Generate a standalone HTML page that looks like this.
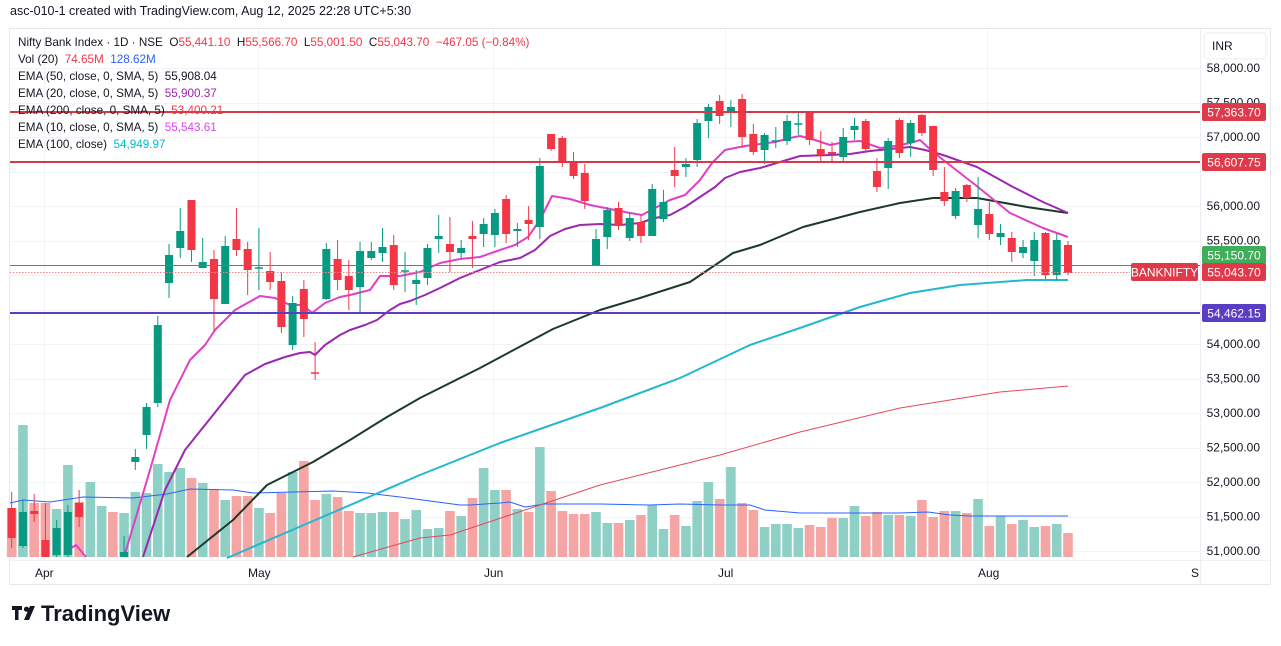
<!DOCTYPE html>
<html><head><meta charset="utf-8"><style>
body{margin:0;width:1281px;height:646px;background:#fff;overflow:hidden;font-family:"Liberation Sans",sans-serif;position:relative}
.t{position:absolute;font-size:12px;color:#131722;white-space:nowrap}
.lg{position:absolute;left:18px;font-size:11.7px;color:#131722;white-space:nowrap}
.r{color:#f23645}.b{color:#2962ff}
</style></head><body>
<div class="t" style="left:10px;top:4px;font-size:12.5px">asc-010-1 created with TradingView.com, Aug 12, 2025 22:28 UTC+5:30</div>
<svg id="s" width="1281" height="646" style="position:absolute;left:0;top:0">
<rect x="9.5" y="28.5" width="1261" height="556" fill="none" stroke="#e6e8ee"/>
<line x1="1200.5" y1="28" x2="1200.5" y2="584" stroke="#eceef3"/>
<line x1="10" y1="560.5" x2="1270" y2="560.5" stroke="#f0f1f4"/>
<g id="grid" stroke="#f2f3f6" stroke-width="1"></g>
<g id="vol"></g>
<g id="lines" fill="none"></g>
<g id="cnd"></g>
<g id="hl"></g>
<rect x="1204" y="33" width="62" height="26" rx="3" fill="#fff" stroke="#eceef3"/>
<text x="1212" y="50" font-size="12" fill="#131722" font-family="Liberation Sans">INR</text>
<g id="ax" font-size="12" fill="#131722" font-family="Liberation Sans" text-anchor="end"></g>
<g font-size="12" fill="#131722" font-family="Liberation Sans">
<text x="35" y="577">Apr</text><text x="248" y="577">May</text><text x="484" y="577">Jun</text><text x="718" y="577">Jul</text><text x="978" y="577">Aug</text><text x="1191" y="577">S</text>
</g>
<g id="lab" font-size="12" font-family="Liberation Sans" fill="#fff"></g>
<g transform="translate(12,606)">
<path d="M0 0h10v4h-3.5v10h-3.5v-10h-3z" fill="#131722"/>
<circle cx="14.5" cy="3.2" r="2.6" fill="#131722"/>
<path d="M18 0h5l-6 14h-5z" fill="#131722"/>
<text x="29" y="15" font-size="22" font-weight="bold" fill="#131722" font-family="Liberation Sans">TradingView</text>
</g>
</svg>
<div class="lg" style="top:36px">Nifty Bank Index · 1D · NSE &nbsp;O<span class="r">55,441.10</span> &nbsp;H<span class="r">55,566.70</span> &nbsp;L<span class="r">55,001.50</span> &nbsp;C<span class="r">55,043.70</span> &nbsp;<span class="r">−467.05 (−0.84%)</span></div>
<div class="lg" style="top:53px">Vol (20) &nbsp;<span class="r">74.65M</span> &nbsp;<span class="b">128.62M</span></div>
<div class="lg" style="top:70px">EMA (50, close, 0, SMA, 5) &nbsp;<span style="color:#131722">55,908.04</span></div>
<div class="lg" style="top:87px">EMA (20, close, 0, SMA, 5) &nbsp;<span style="color:#9c27b0">55,900.37</span></div>
<div class="lg" style="top:104px">EMA (200, close, 0, SMA, 5) &nbsp;<span class="r">53,400.21</span></div>
<div class="lg" style="top:121px">EMA (10, close, 0, SMA, 5) &nbsp;<span style="color:#e040fb">55,543.61</span></div>
<div class="lg" style="top:138px">EMA (100, close) &nbsp;<span style="color:#00bcd4">54,949.97</span></div>
<script>
const NS="http://www.w3.org/2000/svg";
function el(p,t,a){const e=document.createElementNS(NS,t);for(const k in a)e.setAttribute(k,a[k]);document.getElementById(p).appendChild(e);return e;}
const Y=p=>68+(58000-p)*0.069;
for(let p=51000;p<=58000;p+=500){const y=Math.round(Y(p))+.5;el('grid','line',{x1:10,x2:1200,y1:y,y2:y});}
[44,258,493,725,987].forEach(x=>el('grid','line',{x1:x+.5,x2:x+.5,y1:29,y2:560}));
const skip={56500:1,55000:1,54500:1};
for(let p=51000;p<=58000;p+=500){if(skip[p])continue;const t=el('ax','text',{x:1260,y:Y(p)+4});t.textContent=p.toLocaleString('en-US')+'.00';}
const c=i=>11.7+11.237*i;
const G='#089981',R='#f23645';
const vt=[['r',508],['g',425],['r',503],['r',503],['g',509],['g',465],['r',502],['g',482],['g',506],['r',512],['g',513],['g',492],['g',493],['g',464],['g',472],['g',468],['r',478],['g',483],['r',490],['g',500],['r',496],['r',496],['g',508],['r',513],['r',493],['g',472],['r',461],['r',500],['g',494],['r',497],['r',511],['g',513],['g',513],['g',512],['r',512],['g',519],['g',510],
['g',529],['g',528],['r',511],['g',516],['r',498],['g',468],['g',490],['r',490],['g',509],['r',512],['g',447],['r',491],['r',511],['r',514],['r',514],['g',512],['g',523],['r',523],['g',520],['r',515],['g',505],['g',529],['r',515],['g',526],['g',501],['g',482],['r',499],['g',467],['r',503],['r',510],['g',527],['g',524],['g',524],['g',528],['r',525],['r',527],['r',518],['g',518],['g',506],['r',516],['r',512],['g',515],['r',515],['g',516],['r',500],['r',517],['r',511],['g',511],['r',513],['g',499],['r',526],['g',516],['r',524],['g',520],['g',527],['r',526],['g',524],['r',533]];
vt.forEach((v,i)=>el('vol','rect',{x:c(i)-4.8,y:v[1],width:9.6,height:557-v[1],fill:v[0]=='g'?'#8fd0c6':'#f5a6a4'}));
const L=(pts,col,w)=>el('lines','polyline',{points:pts.map(p=>p.join(',')).join(' '),stroke:col,'stroke-width':w,'stroke-linejoin':'round'});
L([[10,503],[23,500],[50,502],[83,497],[133,498],[167,494],[190,489],[233,490],[253,493],[333,491],[367,493],[400,497],[460,505],[470,505],[500,503],[510,502],[525,507],[545,504],[600,504],[650,505],[680,504],[720,505],[750,505],[765,510],[800,513],[900,513],[928,512],[950,515],[970,516],[1068,516]],'#2962ff',1);
L([[353,557],[420,538],[450,535],[540,505],[600,485],[660,470],[720,455],[800,432],[900,408],[1000,392],[1068,386]],'#e8485a',1);
L([[227,558],[320,518],[420,475],[500,443],[600,408],[680,378],[750,345],[797,329],[860,307],[910,293],[960,285],[1027,280],[1068,280]],'#22b8cf',2);
L([[187,557],[233,520],[267,485],[313,462],[350,440],[387,417],[420,398],[480,368],[553,329],[600,310],[640,298],[690,282],[733,253],[760,245],[803,227],[860,212],[900,203],[933,198],[977,198],[1027,207],[1068,213]],'#1b3a2c',2);
L([[143,557],[165,490],[185,450],[205,425],[225,400],[245,375],[265,364],[285,357],[300,353],[310,352],[315,355],[325,345],[340,335],[350,330],[365,325],[377,320],[390,310],[400,304],[410,301],[425,295],[440,288],[460,278],[480,270],[500,262],[520,258],[535,250],[550,236],[565,229],[580,225],[600,224],[620,225],[640,223],[655,218],[670,215],[685,207],[700,197],[715,187],[725,178],[740,172],[760,168],[780,162],[800,156],[830,155],[850,154],[870,151],[890,149],[910,147],[925,150],[943,155],[977,167],[1013,187],[1043,202],[1068,213]],'#9c27b0',2);
L([[124,557],[150,470],[170,400],[190,360],[205,345],[215,330],[235,310],[260,296],[275,298],[290,305],[303,305],[312,313],[325,303],[340,297],[350,295],[370,290],[380,276],[400,276],[420,272],[440,263],[460,259],[480,257],[500,250],[515,245],[528,237],[540,220],[552,196],[570,199],[590,205],[610,209],[630,213],[642,215],[655,208],[670,200],[685,195],[700,180],[712,163],[725,150],[745,146],[760,144],[775,142],[790,138],[800,136],[815,140],[830,145],[845,142],[860,141],[880,148],[895,146],[910,143],[920,140],[933,152],[978,187],[1010,213],[1043,228],[1068,237]],'#e040c8',2);
L([[68,550],[76,545],[86,557]],'#e040c8',2);
const cd=[[0,'r',508,538,492,548],[1,'g',512,546,500,548],[2,'r',511,514,494,522],[3,'r',540,557,503,557],[4,'g',528,555,520,557],[5,'g',512,555,505,557],[6,'r',503,517,490,527],[10,'g',552,557,536,557],[11,'g',457,462,449,470],[12,'g',407,435,403,449],[13,'g',325,403,316,407],[14,'g',255,283,244,298],[15,'g',231,248,208,258],[16,'r',200,250,200,262],[17,'g',262,268,238,268],[18,'r',259,299,250,332],[19,'g',246,304,236,304],[20,'r',239,250,208,256],[21,'r',249,270,242,295],[22,'g',268,268,228,290],[23,'r',271,282,252,290],[24,'r',281,327,272,333],[25,'g',303,345,296,350],[26,'r',289,319,280,337],[27,'r',373,373,342,380],[28,'g',249,299,243,300],[29,'r',259,280,240,290],[30,'r',276,290,260,310],[31,'g',251,287,242,313],[32,'g',251,258,242,260],[33,'g',247,253,228,262],[34,'r',245,285,235,290],[35,'g',271,271,252,292],[36,'g',280,284,270,305],[37,'g',248,278,244,285],[38,'g',236,239,215,253],[39,'r',244,252,217,272],[40,'g',248,253,240,258],[41,'r',236,239,221,268],[42,'g',224,234,218,247],[43,'g',213,235,209,247],[44,'r',199,234,195,243],[45,'g',229,231,223,247],[46,'r',220,224,206,240],[47,'g',166,227,158,239],[48,'r',134,149,134,151],[49,'r',138,163,136,167],[50,'r',162,176,152,179],[51,'r',173,201,164,209],[52,'g',239,265,229,265],[53,'g',210,237,207,249],[54,'r',208,226,202,230],[55,'g',218,238,212,241],[56,'r',222,236,215,243],[57,'g',189,236,184,236],[58,'g',202,219,190,222],[59,'r',170,176,147,187],[60,'g',164,167,158,177],[61,'g',123,160,119,167],[62,'g',107,121,104,138],[63,'r',101,116,95,124],[64,'g',107,111,100,127],[65,'r',99,137,94,148],[66,'r',134,152,124,155],[67,'g',135,150,133,164],[68,'g',141,141,127,148],[69,'g',121,141,115,145],[70,'g',124,124,113,135],[71,'r',113,140,113,145],[72,'r',149,155,131,163],[73,'r',152,154,142,163],[74,'g',137,157,128,162],[75,'g',126,130,118,140],[76,'r',121,149,119,152],[77,'r',171,187,158,192],[78,'g',141,168,138,189],[79,'r',120,153,118,158],[80,'g',123,143,120,157],[81,'r',115,133,114,136],[82,'r',126,170,126,176],[83,'r',192,201,167,206],[84,'g',191,216,188,219],[85,'r',185,198,184,202],[86,'g',209,225,177,238],[87,'r',214,234,202,240],[88,'g',233,237,224,245],[89,'r',238,252,232,262],[90,'g',247,253,240,258],[91,'g',240,261,232,276],[92,'r',233,275,232,279],[93,'g',240,275,234,280],[94,'r',245,273,241,275]];
cd.forEach(d=>{const x=c(d[0]),col=d[1]=='g'?G:R;
el('cnd','line',{x1:x,x2:x,y1:d[4],y2:d[5],stroke:col,'stroke-width':1});
const h=Math.max(1.5,d[3]-d[2]);el('cnd','rect',{x:x-4,y:d[3]-d[2]<1.5?d[2]-0.75:d[2],width:8,height:h,fill:col});
if(d[3]-d[2]<1.5)el('cnd','line',{x1:x-4,x2:x+4,y1:d[2],y2:d[2],stroke:col,'stroke-width':1});});
el('hl','line',{x1:10,x2:1200,y1:112,y2:112,stroke:'#d8394a','stroke-width':2});
el('hl','line',{x1:10,x2:1200,y1:162,y2:162,stroke:'#d8394a','stroke-width':2});
el('hl','line',{x1:10,x2:1200,y1:265.5,y2:265.5,stroke:'#3c9a54','stroke-width':1});
el('hl','line',{x1:10,x2:1130,y1:272.5,y2:272.5,stroke:'#e88a90','stroke-width':1,'stroke-dasharray':'1.5,1.5'});
el('hl','line',{x1:10,x2:1200,y1:313,y2:313,stroke:'#5b3cc4','stroke-width':2});
const lab=(y,t,col,x=1202,w=64)=>{el('lab','rect',{x:x,y:y-9,width:w,height:18,rx:2,fill:col});const e=el('lab','text',{x:x+w/2,y:y+4.5,'text-anchor':'middle'});e.textContent=t;};
lab(112,'57,363.70','#e03a4a');lab(162,'56,607.75','#e03a4a');lab(255,'55,150.70','#3fae58');lab(272,'55,043.70','#e03a4a');lab(313,'54,462.15','#5b3cc4');
lab(272,'BANKNIFTY','#e03a4a',1131,67);
</script>
</body></html>
